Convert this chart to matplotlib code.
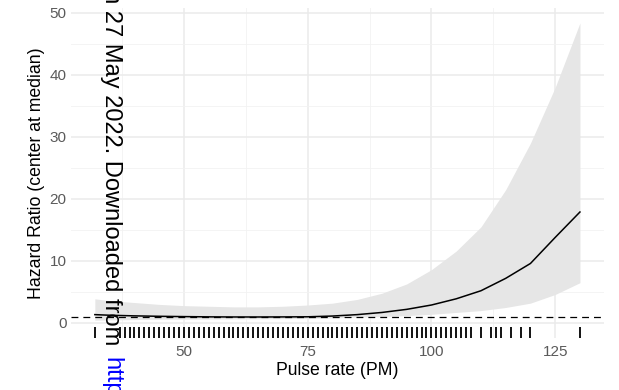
import matplotlib
matplotlib.use("Agg")
import matplotlib.pyplot as plt
import matplotlib.transforms as mtransforms

plt.rcParams['font.family'] = ['Liberation Sans', 'DejaVu Sans']

# Pulse rate grid and restricted-cubic-spline hazard ratio estimates
pulse = [32, 35, 40, 45, 50, 55, 60, 65, 70, 75, 80, 85, 90, 95, 100,
         105, 110, 115, 120, 125, 130]
hr = [1.35, 1.25, 1.15, 1.08, 1.03, 0.99, 0.97, 0.97, 0.98, 1.0, 1.12,
      1.35, 1.7, 2.2, 2.9, 3.9, 5.2, 7.2, 9.6, 13.8, 17.9]
hr_upper = [3.9, 3.6, 3.3, 3.0, 2.8, 2.7, 2.6, 2.6, 2.7, 2.9, 3.2, 3.8,
            4.8, 6.3, 8.6, 11.6, 15.5, 21.5, 29.0, 38.0, 48.4]
hr_lower = [0.45, 0.5, 0.55, 0.6, 0.62, 0.64, 0.66, 0.68, 0.7, 0.75, 0.82,
            0.95, 1.05, 1.2, 1.4, 1.7, 2.0, 2.5, 3.2, 4.6, 6.5]

# Observed pulse rates shown as a rug
rug_values = [32] + list(range(37, 109)) + [110, 112, 113, 114, 116, 118, 120, 130]

x_ticks = [50, 75, 100, 125]
y_ticks = [0, 10, 20, 30, 40, 50]
reference_hr = 1

W, H = 619, 390
fig = plt.figure(figsize=(W / 100, H / 100), dpi=100)
left, right, top, bottom = 70.6, 604.2, 8.0, 338.0
ax = fig.add_axes([left / W, 1 - bottom / H, (right - left) / W, (bottom - top) / H])

ax.set_xlim(27.1, 134.9)
ax.set_ylim(-2.42, 50.8)

# theme_minimal-like grid
ax.set_xticks(x_ticks)
ax.set_yticks(y_ticks)
ax.set_xticks([37.5, 62.5, 87.5, 112.5], minor=True)
ax.set_yticks([5, 15, 25, 35, 45], minor=True)
ax.grid(True, which='major', color='#ebebeb', lw=1.1)
ax.grid(True, which='minor', color='#f2f2f2', lw=0.6)
ax.set_axisbelow(True)
for s in ax.spines.values():
    s.set_visible(False)
ax.tick_params(which='both', length=0)
ax.tick_params(axis='x', pad=5, labelsize=11, labelcolor='#5a5a5a')
ax.tick_params(axis='y', pad=3, labelsize=11, labelcolor='#5a5a5a')

ax.fill_between(pulse, hr_lower, hr_upper, color='#e6e6e6', lw=0, zorder=2)
ax.plot(pulse, hr, color='black', lw=1.1, zorder=3)
ax.axhline(reference_hr, color='black', lw=0.9, dashes=(5.5, 4), zorder=4)

trans = mtransforms.blended_transform_factory(ax.transData, ax.transAxes)
ax.vlines(rug_values, 0, 0.032, transform=trans, color='black', lw=1.3, zorder=4)

ax.set_xlabel('Pulse rate (PM)', fontsize=12.7, labelpad=2)
ax.set_ylabel('Hazard Ratio (center at median)', fontsize=12.7, labelpad=3)

# Download stamp running down the page margin
fig.text(105 / W, 1 - 345 / H, 'on 27 May 2022. Downloaded from',
         rotation=270, rotation_mode='anchor', ha='right', va='baseline',
         fontsize=17, color='black')
fig.text(105 / W, 1 - 357 / H, 'http://',
         rotation=270, rotation_mode='anchor', ha='left', va='baseline',
         fontsize=17, color='blue')

fig.savefig('out.png', dpi=100)
